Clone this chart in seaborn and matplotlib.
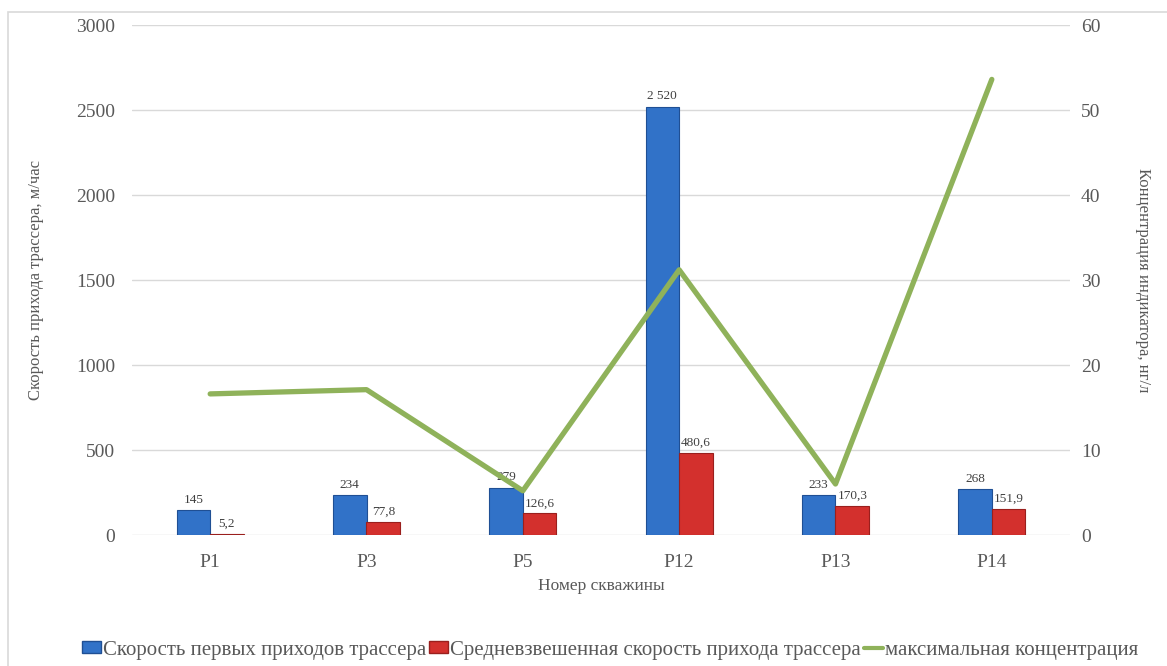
import matplotlib
matplotlib.use("Agg")
import matplotlib.pyplot as plt
import matplotlib.patches as mpatches
from matplotlib.lines import Line2D
import seaborn as sns
import pandas as pd

# Wells and measured values
wells = ["P1", "P3", "P5", "P12", "P13", "P14"]
first_arrival = [145, 234, 279, 2520, 233, 268]
weighted_speed = [5.2, 77.8, 126.6, 480.6, 170.3, 151.9]
max_concentration = [16.6, 17.1, 5.2, 31.2, 6.0, 53.6]

first_labels = ["145", "234", "279", "2 520", "233", "268"]
weighted_labels = ["5,2", "77,8", "126,6", "480,6", "170,3", "151,9"]

series_first = "Скорость первых приходов трассера"
series_weighted = "Средневзвешенная скорость прихода трассера"
series_conc = "максимальная концентрация"

sns.set_style("white")
plt.rcParams["font.family"] = ["Liberation Serif", "DejaVu Serif"]

TXT = "#595959"
BLUE = "#3172c8"
RED = "#d3302d"
GREEN = "#8fb25a"

df = pd.DataFrame({
    "well": wells * 2,
    "value": first_arrival + weighted_speed,
    "series": [series_first] * len(wells) + [series_weighted] * len(wells),
})

fig = plt.figure(figsize=(11.67, 6.66), dpi=100)
ax = fig.add_axes([132 / 1167, 1 - 535 / 666, (1070 - 132) / 1167, (535 - 25) / 666])

sns.barplot(data=df, x="well", y="value", hue="series",
            palette=[BLUE, RED], width=0.43, ax=ax, legend=False,
            edgecolor="none", saturation=1)

# Darker outline on the bars
for container, edge in zip(ax.containers, ["#1f4f94", "#9a1f1d"]):
    for bar in container:
        bar.set_edgecolor(edge)
        bar.set_linewidth(0.8)

# Value labels above each bar
for container, labels in zip(ax.containers, [first_labels, weighted_labels]):
    ax.bar_label(container, labels=labels, padding=3, fontsize=9.5, color="#404040")

ax.set_ylim(0, 3000)
ax.set_yticks(range(0, 3001, 500))
ax.set_xlim(-0.5, len(wells) - 0.5)
ax.yaxis.grid(True, color="#d9d9d9", linewidth=1)
ax.set_axisbelow(True)
for s in ax.spines.values():
    s.set_visible(False)
ax.tick_params(axis="both", length=0, colors=TXT, labelsize=14)
ax.tick_params(axis="y", pad=12)
ax.tick_params(axis="x", pad=14)
ax.set_xlabel("Номер скважины", fontsize=12.5, color=TXT, labelpad=5)
ax.set_ylabel("Скорость прихода трассера, м/час", fontsize=12, color=TXT, labelpad=23)

ax2 = ax.twinx()
sns.lineplot(x=list(range(len(wells))), y=max_concentration, ax=ax2,
             color=GREEN, linewidth=3.8, legend=False)
ax2.set_ylim(0, 60)
ax2.set_yticks(range(0, 61, 10))
for s in ax2.spines.values():
    s.set_visible(False)
ax2.tick_params(axis="y", length=0, colors=TXT, labelsize=14, pad=8)
ax2.set_ylabel("Концентрация индикатора, нг/л", fontsize=12, color=TXT,
               rotation=270, labelpad=36)

handles = [
    mpatches.Patch(facecolor=BLUE, edgecolor="#1f4f94", label=series_first),
    mpatches.Patch(facecolor=RED, edgecolor="#9a1f1d", label=series_weighted),
    Line2D([0], [0], color=GREEN, linewidth=3, label=series_conc),
]
fig.legend(handles=handles, loc="center", bbox_to_anchor=(610 / 1167, 1 - 650 / 666),
           ncol=3, frameon=False, fontsize=15, handlelength=0.9, handleheight=0.5,
           handletextpad=0.1, columnspacing=0.15, labelcolor=TXT)

# Light frame around the chart area
fig.add_artist(mpatches.Rectangle((8 / 1167, -0.02), 1.1, 1 - 12 / 666 + 0.02,
                                  transform=fig.transFigure, fill=False,
                                  edgecolor="#d9d9d9", linewidth=1.2))

fig.savefig("out.png", dpi=100)
